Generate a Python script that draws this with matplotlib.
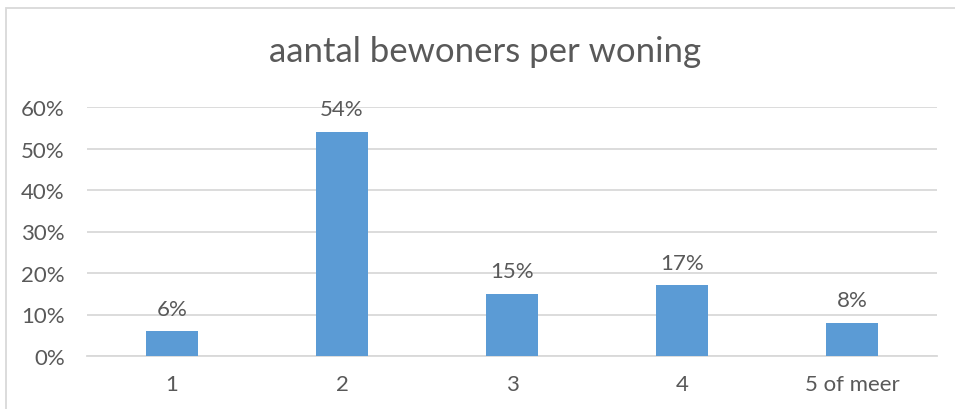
import matplotlib
matplotlib.use("Agg")
import matplotlib.pyplot as plt
from matplotlib.patches import Rectangle
from matplotlib.ticker import FuncFormatter

categories = ["1", "2", "3", "4", "5 of meer"]
values = [0.06, 0.54, 0.15, 0.17, 0.08]
labels = ["6%", "54%", "15%", "17%", "8%"]
yticks = [0, 0.1, 0.2, 0.3, 0.4, 0.5, 0.6]
title = "aantal bewoners per woning"

W, H = 955, 410
plt.rcParams['font.family'] = ['Lato', 'DejaVu Sans']
fig = plt.figure(figsize=(W / 100, H / 100), dpi=100)
fig.patch.set_facecolor('white')

# outer chart border
fig.patches.append(Rectangle((6 / W, -0.1), 1.5, (H - 9) / H + 0.1, transform=fig.transFigure,
                             fill=False, edgecolor='#D9D9D9', linewidth=1.3))

ax = fig.add_axes([87 / W, 1 - 357 / H, 850 / W, 249 / H])
text_col = '#595959'
grid_col = '#D9D9D9'
x = list(range(len(categories)))
ax.bar(x, values, width=0.31, color='#5B9BD5', zorder=3)
ax.set_xlim(-0.5, len(categories) - 0.5)
ax.set_ylim(0, 0.6)
ax.set_yticks(yticks)
ax.yaxis.set_major_formatter(FuncFormatter(lambda v, p: f"{round(v * 100)}%"))
ax.set_xticks(x)
ax.set_xticklabels(categories)
ax.grid(axis='y', color=grid_col, linewidth=1.3, zorder=0)
ax.set_axisbelow(True)
for s in ['top', 'right', 'left']:
    ax.spines[s].set_visible(False)
ax.spines['bottom'].set_color(grid_col)
ax.spines['bottom'].set_linewidth(1.3)
ax.tick_params(axis='both', length=0, colors=text_col, labelsize=16)
ax.tick_params(axis='y', pad=16)
ax.tick_params(axis='x', pad=13)

for xi, v, lab in zip(x, values, labels):
    ax.annotate(lab, (xi, v), xytext=(0, 9), textcoords='offset points',
                ha='center', va='bottom', fontsize=16, color=text_col)

fig.text(485 / W, 1 - 62 / H, title, ha='center', va='baseline', fontsize=25, color=text_col)

fig.savefig('out.png', dpi=100, facecolor='white')
